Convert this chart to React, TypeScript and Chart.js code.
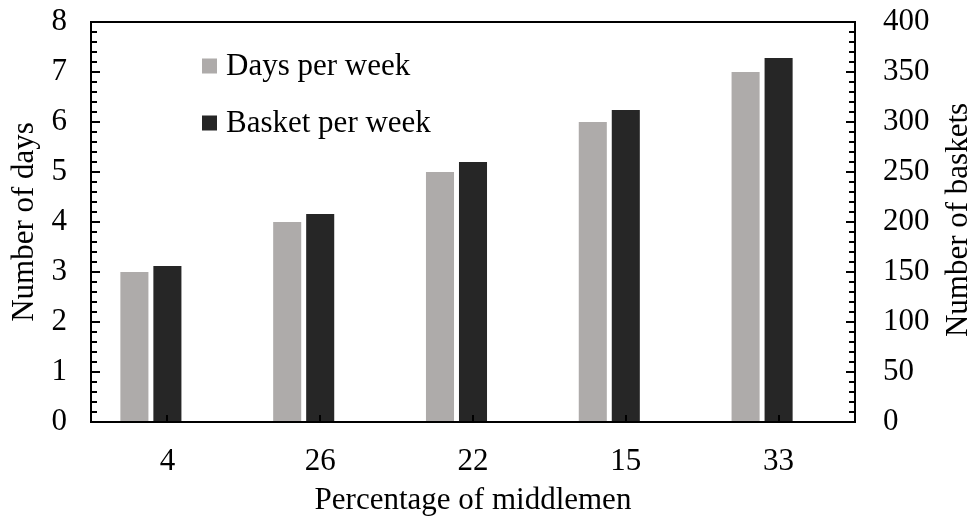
import React, { useEffect, useRef } from "react";
import { Chart, registerables } from "chart.js";

Chart.register(...registerables);

const categories = ["4", "26", "22", "15", "33"];
const daysPerWeek = [3, 4, 5, 6, 7];
const basketsPerWeek = [156, 208, 260, 312, 364];
const seriesLabels = ["Days per week", "Basket per week"];
const seriesColors = ["#AEABAA", "#262626"];
const xTitle = "Percentage of middlemen";
const yTitle = "Number of days";
const y1Title = "Number of baskets";

const FONT_FAMILY = '"Liberation Serif", "Times New Roman", Times, serif';
const FS = 31;

const framePlugin = {
  id: "frameAndExtras",
  afterDraw(chart: any) {
    const { ctx, chartArea, scales } = chart;
    const { left, right, top, bottom } = chartArea;
    const y = scales.y;
    const y1 = scales.y1;
    const x = scales.x;
    ctx.save();
    ctx.strokeStyle = "#000";
    ctx.lineWidth = 2;
    ctx.beginPath();
    for (let i = 0; i <= 40; i++) {
      const v = i * 0.2;
      const p = Math.round(y.getPixelForValue(v));
      const len = i % 5 === 0 ? 9 : 6;
      ctx.moveTo(left, p);
      ctx.lineTo(left + len, p);
    }
    for (let i = 0; i <= 40; i++) {
      const v = i * 10;
      const p = Math.round(y1.getPixelForValue(v));
      const len = i % 5 === 0 ? 9 : 6;
      ctx.moveTo(right, p);
      ctx.lineTo(right - len, p);
    }
    for (let i = 0; i < categories.length; i++) {
      const p = Math.round(x.getPixelForTick(i));
      ctx.moveTo(p, bottom);
      ctx.lineTo(p, bottom - 7);
    }
    ctx.stroke();
    ctx.strokeRect(left, top, right - left, bottom - top);

    ctx.fillStyle = "#000";
    ctx.font = `${FS}px ${FONT_FAMILY}`;
    ctx.textAlign = "center";
    ctx.textBaseline = "middle";
    ctx.save();
    ctx.translate(959, (top + bottom) / 2 - 2);
    ctx.rotate(-Math.PI / 2);
    ctx.fillText(y1Title, 0, 0);
    ctx.restore();

    const items = [
      { label: seriesLabels[0], color: seriesColors[0], y: 66 },
      { label: seriesLabels[1], color: seriesColors[1], y: 123 },
    ];
    ctx.textAlign = "left";
    for (const it of items) {
      ctx.fillStyle = it.color;
      ctx.fillRect(202, it.y - 7.5, 15, 15);
      ctx.fillStyle = "#000";
      ctx.fillText(it.label, 226, it.y + 1);
    }
    ctx.restore();
  },
};

export default function App() {
  const ref = useRef<HTMLCanvasElement | null>(null);
  useEffect(() => {
    if (!ref.current) return;
    const font = { family: FONT_FAMILY, size: FS };
    const fitY = (w: number) => (s: any) => {
      s.width = w;
      s.paddingTop = 0;
      s.paddingBottom = 0;
    };
    const chart = new Chart(ref.current, {
      type: "bar",
      data: {
        labels: categories,
        datasets: [
          {
            label: seriesLabels[0],
            data: daysPerWeek,
            yAxisID: "y",
            backgroundColor: seriesColors[0],
            barPercentage: 0.85,
            categoryPercentage: 0.648,
          },
          {
            label: seriesLabels[1],
            data: basketsPerWeek,
            yAxisID: "y1",
            backgroundColor: seriesColors[1],
            barPercentage: 0.85,
            categoryPercentage: 0.648,
          },
          {
            label: "",
            data: categories.map(() => null),
            yAxisID: "y",
            backgroundColor: "rgba(0,0,0,0)",
            barPercentage: 0.85,
            categoryPercentage: 0.648,
          },
        ],
      },
      options: {
        responsive: false,
        animation: false,
        layout: { padding: { top: 22, left: 0, right: 0, bottom: 0 } },
        plugins: {
          legend: { display: false },
          tooltip: { enabled: false },
        },
        scales: {
          x: {
            type: "category",
            grid: { display: false, drawTicks: false },
            border: { display: false },
            ticks: { font, color: "#000", padding: 21, maxRotation: 0 },
            title: {
              display: true,
              text: xTitle,
              font,
              color: "#000",
              padding: { top: 0, bottom: 5 },
            },
            afterFit: (s: any) => {
              s.height = 102;
              s.paddingLeft = 0;
              s.paddingRight = 0;
            },
          },
          y: {
            position: "left",
            min: 0,
            max: 8,
            ticks: { stepSize: 1, font, color: "#000", padding: 24 },
            grid: { display: false, drawTicks: false },
            border: { display: false },
            title: {
              display: true,
              text: yTitle,
              font,
              color: "#000",
              padding: { top: 6, bottom: 0 },
            },
            afterFit: fitY(91),
          },
          y1: {
            position: "right",
            min: 0,
            max: 400,
            ticks: { stepSize: 50, font, color: "#000", padding: 28 },
            grid: { display: false, drawTicks: false },
            border: { display: false },
            afterFit: fitY(119),
          },
        },
      },
      plugins: [framePlugin],
    } as any);
    return () => chart.destroy();
  }, []);
  return (
    <div style={{ position: "absolute", left: 0, top: 0, width: 974, height: 524, background: "#fff" }}>
      <canvas ref={ref} width={974} height={524} />
    </div>
  );
}
